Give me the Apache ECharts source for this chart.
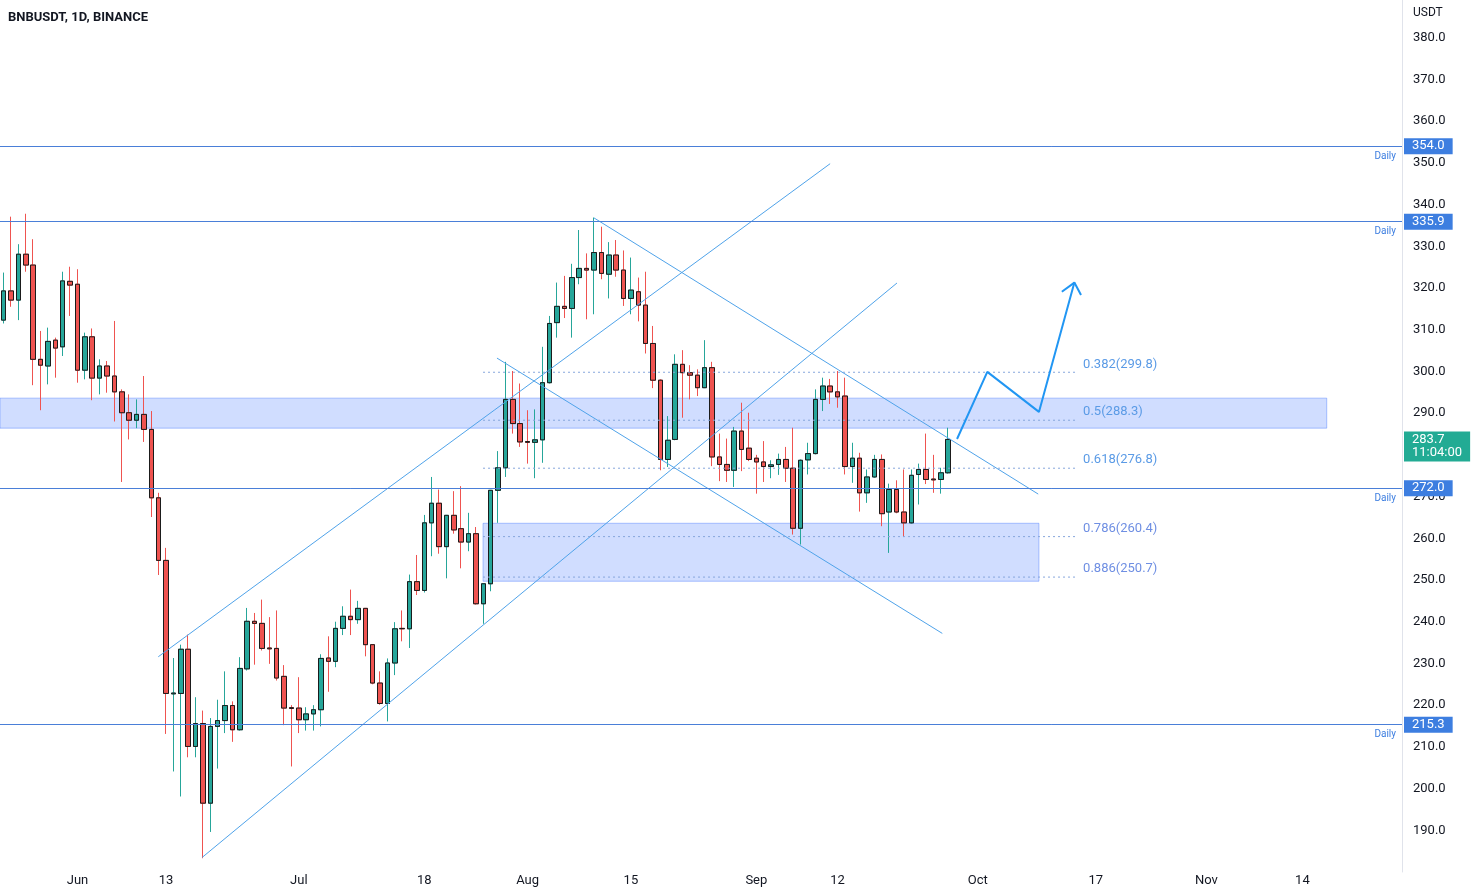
<!DOCTYPE html>
<html>
<head>
<meta charset="utf-8">
<title>BNBUSDT 1D</title>
<script src="https://cdn.jsdelivr.net/npm/echarts@6/dist/echarts.min.js"></script>
<style>
  html, body { margin: 0; padding: 0; background: #fff; }
  #chart { width: 1477px; height: 892px; }
</style>
</head>
<body>
<div id="chart"></div>
<script>
// daily candles, first one is 2022-05-22
const startDay = '2022-05-22'
const dayCount = 190

const opens = [312.3, 319.3, 317.1, 328.1, 325.5, 302.9, 301.3, 307.5, 305.9, 321.6,
  320.9, 300.3, 308.3, 298.4, 301.3, 298.9, 295.1, 290.1, 288.3, 289.7,
  286.1, 269.7, 254.7, 222.7, 222.8, 233.4, 210.1, 215.6, 196.5, 214.9,
  216.3, 219.9, 214.1, 228.7, 240.1, 239.6, 233.7, 233.6, 226.9, 219.4,
  219.3, 216.5, 217.9, 218.9, 231.3, 230.5, 238.4, 241.3, 240.5, 243.2,
  234.5, 225.3, 220.4, 230.1, 238.4, 238.3, 249.6, 247.5, 263.7, 268.4,
  258.0, 265.5, 262.3, 259.1, 261.1, 244.3, 249.1, 271.5, 276.9, 293.3,
  287.5, 283.2, 283.0, 283.6, 297.3, 311.7, 315.6, 315.1, 322.5, 324.7,
  324.3, 328.5, 323.3, 327.9, 324.3, 317.5, 319.1, 315.9, 306.7, 297.9,
  278.9, 283.7, 301.7, 299.7, 299.1, 296.1, 300.9, 279.5, 277.7, 276.3,
  285.7, 281.6, 279.2, 278.3, 277.2, 277.7, 278.9, 276.8, 262.4, 278.8,
  280.3, 293.3, 296.5, 295.1, 294.1, 277.2, 279.2, 270.9, 274.7, 278.9,
  266.3, 271.7, 266.3, 263.7, 275.3, 276.5, 274.2, 274.1, 275.7]
const closes = [319.3, 317.1, 328.1, 325.5, 302.9, 301.5, 307.2, 305.6, 321.7, 320.7,
  300.3, 308.3, 298.4, 301.3, 298.9, 295.1, 290.1, 288.3, 289.7, 286.1,
  269.7, 254.7, 222.8, 222.9, 233.4, 210.1, 215.6, 196.5, 214.9, 216.3,
  219.9, 214.1, 228.8, 240.1, 239.6, 233.6, 233.5, 226.5, 219.3, 219.2,
  216.5, 217.9, 218.9, 231.2, 230.5, 238.4, 241.3, 240.5, 243.2, 234.5,
  225.3, 220.4, 230.1, 238.3, 238.3, 249.6, 247.5, 263.7, 268.4, 258.0,
  265.5, 262.0, 259.1, 261.1, 244.3, 249.1, 271.5, 276.9, 293.3, 287.5,
  283.1, 283.0, 283.6, 297.3, 311.5, 315.6, 315.1, 322.5, 324.7, 324.3,
  328.5, 323.5, 327.9, 324.3, 317.5, 319.5, 315.9, 306.7, 297.9, 278.9,
  283.5, 301.7, 299.7, 299.1, 296.1, 300.9, 279.5, 277.7, 276.3, 285.7,
  281.3, 278.9, 278.3, 277.2, 277.6, 278.9, 276.8, 262.4, 278.7, 280.3,
  293.3, 296.5, 295.1, 293.9, 277.2, 279.2, 270.9, 274.7, 278.9, 265.9,
  271.7, 266.3, 263.7, 275.1, 276.5, 274.1, 274.0, 275.7, 283.7]
const lows = [311.5, 315.5, 312.3, 323.9, 296.7, 290.7, 296.9, 298.5, 303.7, 313.3,
  297.3, 298.1, 293.1, 294.5, 294.9, 288.0, 273.5, 283.7, 286.4, 283.1,
  265.1, 251.2, 213.1, 204.1, 198.1, 207.5, 207.5, 183.3, 189.6, 204.8,
  213.3, 211.2, 213.9, 228.3, 229.7, 233.1, 229.9, 225.9, 215.2, 205.3,
  213.3, 213.9, 213.9, 214.9, 223.2, 229.1, 236.8, 236.8, 239.5, 231.7,
  225.0, 220.1, 216.1, 227.2, 235.3, 233.7, 246.4, 247.0, 255.7, 256.3,
  250.4, 261.1, 252.8, 256.9, 244.1, 239.5, 247.3, 263.7, 274.7, 285.1,
  281.9, 277.9, 274.4, 278.1, 297.1, 308.1, 312.8, 308.1, 320.9, 312.5,
  313.7, 322.1, 317.5, 322.7, 315.7, 313.7, 312.0, 304.3, 296.0, 276.3,
  277.1, 283.5, 288.9, 293.3, 294.1, 296.0, 277.3, 273.7, 273.5, 272.3,
  276.1, 278.5, 270.7, 273.5, 274.4, 275.2, 273.5, 260.9, 258.5, 275.3,
  280.1, 290.5, 292.2, 291.3, 275.3, 273.3, 266.4, 268.5, 274.5, 262.9,
  256.5, 266.0, 260.3, 263.5, 268.1, 273.0, 270.9, 270.7, 275.5]
const highs = [323.7, 337.1, 330.5, 337.8, 331.7, 309.7, 310.5, 308.1, 323.9, 325.1,
  324.5, 309.3, 310.3, 302.9, 302.5, 312.1, 295.7, 294.5, 293.3, 298.9,
  290.5, 270.9, 257.7, 231.3, 234.5, 236.9, 221.9, 218.7, 216.9, 221.3,
  228.1, 220.9, 231.5, 243.3, 242.1, 245.3, 241.1, 242.7, 229.6, 220.0,
  226.7, 219.5, 220.0, 232.2, 236.5, 240.0, 243.7, 247.7, 245.0, 243.3,
  234.6, 228.1, 231.2, 239.9, 242.7, 251.3, 256.0, 265.6, 274.7, 271.7,
  265.6, 271.3, 272.5, 266.1, 262.7, 249.2, 271.6, 280.9, 302.3, 300.1,
  297.1, 290.7, 290.9, 305.9, 313.3, 321.3, 322.9, 325.8, 333.9, 328.3,
  336.9, 334.7, 331.0, 331.5, 329.0, 327.3, 322.5, 323.9, 310.9, 298.1,
  289.3, 304.1, 305.1, 301.5, 300.5, 307.5, 302.3, 285.1, 283.9, 286.7,
  292.5, 290.1, 280.0, 283.3, 278.7, 280.3, 281.9, 286.5, 278.9, 282.9,
  295.7, 298.5, 298.2, 300.1, 298.5, 282.9, 280.5, 276.5, 280.0, 280.1,
  273.1, 273.9, 276.5, 276.5, 277.9, 285.1, 280.0, 276.9, 286.5]

// time scale labels
const tickDays = ['2022-06-01', '2022-06-13', '2022-07-01', '2022-07-18', '2022-08-01', '2022-08-15',
  '2022-09-01', '2022-09-12', '2022-10-01', '2022-10-17', '2022-11-01', '2022-11-14']
const tickTexts = ['Jun', '13', 'Jul', '18', 'Aug', '15', 'Sep', '12', 'Oct', '17', 'Nov', '14']

// drawings (x = day index from startDay)
const levelValues = [354.0, 335.9, 272.0, 215.3]
const fibRatios = ['0.382', '0.5', '0.618', '0.786', '0.886']
const fibValues = [299.8, 288.3, 276.8, 260.4, 250.7]
const fibSpan = [64.96, 145.2]
const zones = [
  [[-0.5, 293.6], [179.3, 286.4]],
  [[64.96, 263.6], [140.3, 249.7]]
]
const trendLines = [
  [[26.9, 183.5], [121.06, 321.2]],
  [[20.95, 231.6], [112.0, 349.8]],
  [[80.0, 336.8], [140.2, 270.6]],
  [[66.85, 303.2], [127.2, 237.2]]
]
const projection = [[129.2, 283.8], [133.3, 299.9], [140.3, 290.3], [145.1, 321.3]]
const arrowHead = [[143.4, 319.1], [145.1, 321.3], [146.0, 318.3]]
const lastPrice = 283.7
const countdown = '11:04:00'

const up = '#26a69a'
const down = '#ef5350'
const drawBlue = '#3d7ee0'
const font = 'Roboto, "Liberation Sans", sans-serif'

const days = []
const t0 = new Date(startDay + 'T00:00:00Z').getTime()
for (let i = 0; i < dayCount; i++) {
  days.push(new Date(t0 + i * 86400000).toISOString().slice(0, 10))
}
const tickMap = {}
tickDays.forEach((d, i) => { tickMap[d] = tickTexts[i] })

const candles = opens.map((o, i) => [o, closes[i], lows[i], highs[i]])
const bodies = opens.map((o, i) => [o, closes[i], Math.min(o, closes[i]), Math.max(o, closes[i])])

const levelMarks = []
levelValues.forEach((v) => {
  levelMarks.push({
    yAxis: v,
    label: {
      position: 'end', formatter: v.toFixed(1), distance: 2,
      backgroundColor: drawBlue, color: '#fff', padding: [1, 8, 1, 8],
      fontSize: 13, lineHeight: 14, fontFamily: font
    }
  })
  levelMarks.push({
    yAxis: v,
    label: {
      position: 'insideEndBottom', formatter: 'Daily', distance: [6, 5],
      color: drawBlue, fontSize: 10, fontFamily: font
    }
  })
})
// current price tag
levelMarks.push({
  yAxis: lastPrice,
  lineStyle: { color: 'rgba(0,0,0,0)' },
  label: {
    position: 'end', distance: 2, offset: [0, 7],
    formatter: lastPrice.toFixed(1) + '\n' + countdown,
    backgroundColor: '#22ab94', color: '#fff', padding: [2, 8, 2, 8],
    fontSize: 13, lineHeight: 13, align: 'left', fontFamily: font
  }
})

const series = [
  {
    // zones
    type: 'line',
    xAxisIndex: 1,
    data: zones.map((z) => z[0]),
    symbol: 'none',
    lineStyle: { opacity: 0 },
    silent: true,
    markArea: {
      silent: true,
      itemStyle: { color: 'rgba(41, 98, 255, 0.22)', borderColor: 'rgba(41, 98, 255, 0.35)', borderWidth: 1 },
      data: zones.map((z) => [{ coord: z[0] }, { coord: z[1] }])
    }
  },
  {
    // wicks
    type: 'candlestick',
    data: candles,
    barWidth: 5,
    itemStyle: { color: up, color0: down, borderColor: up, borderColor0: down, borderWidth: 1 }
  },
  {
    // bodies with dark outline
    type: 'candlestick',
    data: bodies,
    barWidth: 5,
    itemStyle: { color: up, color0: down, borderColor: '#1b1b1b', borderColor0: '#1b1b1b', borderWidth: 1 },
    markLine: {
      silent: true,
      symbol: 'none',
      lineStyle: { color: '#4a7fd8', width: 1, type: 'solid' },
      data: levelMarks
    }
  }
]

trendLines.forEach((seg) => {
  series.push({
    type: 'line', xAxisIndex: 1, data: seg, symbol: 'none', silent: true,
    lineStyle: { color: '#4fa3ea', width: 1 }
  })
})

fibValues.forEach((v, i) => {
  const c = i < 3 ? '#5b9be6' : '#6f8fe3'
  series.push({
    type: 'line', xAxisIndex: 1, symbol: 'none', silent: true,
    data: [[fibSpan[0], v], [fibSpan[1], v]],
    lineStyle: { color: '#86a6dc', width: 1, type: [2, 3] },
    endLabel: {
      show: true, distance: 8, offset: [0, -8], color: c, fontSize: 13, fontFamily: font,
      formatter: fibRatios[i] + '(' + v.toFixed(1) + ')'
    }
  })
})

series.push({
  type: 'line', xAxisIndex: 1, data: projection, symbol: 'none', silent: true,
  lineStyle: { color: '#2196f3', width: 2 }
})
series.push({
  type: 'line', xAxisIndex: 1, data: arrowHead, symbol: 'none', silent: true,
  lineStyle: { color: '#2196f3', width: 2 }
})

const myChart = echarts.init(document.getElementById('chart'))
myChart.setOption({
  animation: false,
  backgroundColor: '#ffffff',
  title: {
    text: 'BNBUSDT, 1D, BINANCE',
    left: 3,
    top: 6,
    textStyle: { fontSize: 13, fontWeight: 'bold', color: '#131722', fontFamily: font }
  },
  graphic: [{
    type: 'text', left: 1413, top: 7,
    style: { text: 'USDT', fontSize: 12, fill: '#131722', fontFamily: font }
  }],
  grid: { left: 0, right: 75, top: -4, bottom: 20, outerBoundsMode: 'none' },
  xAxis: [
    {
      type: 'category',
      data: days,
      boundaryGap: true,
      axisLine: { show: false },
      axisTick: { show: false },
      splitLine: { show: false },
      axisLabel: {
        interval: (idx, val) => !!tickMap[val],
        formatter: (val) => tickMap[val] || '',
        margin: 2,
        color: '#131722',
        fontSize: 13,
        fontFamily: font
      }
    },
    {
      type: 'value', min: -0.5, max: dayCount - 0.5, show: false,
      splitLine: { show: false }, axisLine: { show: false }
    }
  ],
  yAxis: {
    type: 'value',
    position: 'right',
    min: 180,
    max: 390,
    interval: 10,
    splitLine: { show: false },
    axisTick: { show: false },
    axisLine: { show: true, onZero: false, lineStyle: { color: '#e0e3eb' } },
    axisLabel: {
      margin: 11,
      color: '#131722',
      fontSize: 13,
      fontFamily: font,
      formatter: (v) => (v <= 180 || v >= 390) ? '' : v.toFixed(1)
    }
  },
  series: series
})
</script>
</body>
</html>
